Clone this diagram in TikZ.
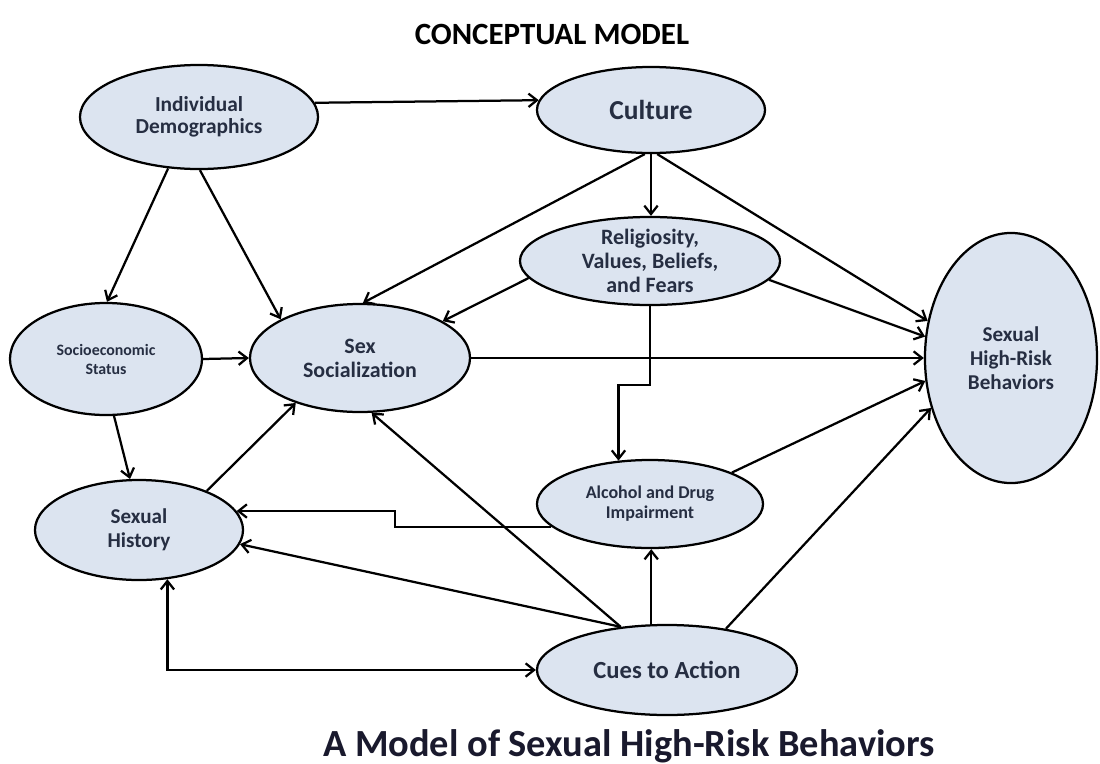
\documentclass[tikz,border=0pt]{standalone}
\usepackage{fontspec}
\setmainfont{Carlito}
\usetikzlibrary{arrows.meta,shapes.geometric}
\definecolor{nodefill}{RGB}{220,228,240}
\definecolor{nodetext}{RGB}{38,46,66}
\definecolor{subcol}{RGB}{25,25,45}
\newcommand\fsz[2]{\fontsize{#1}{#2}\selectfont}
\begin{document}
\begin{tikzpicture}[x=0.025cm,y=-0.025cm,
  ell/.style={ellipse, draw=black, line width=1.6pt, fill=nodefill,
    inner xsep=0pt, inner ysep=-6pt, text=nodetext, align=center},
  arr/.style={line width=1.6pt, -{Straight Barb[length=6pt,width=9.5pt]}},
  arrtwo/.style={line width=1.6pt, {Straight Barb[length=6pt,width=9.5pt]}-{Straight Barb[length=6pt,width=9.5pt]}}
  ]
\useasboundingbox[fill=white] (0,0) rectangle (1100,764);

% titles
\node[font=\bfseries\fsz{22}{24}, anchor=base] (title) at (552,44) {CONCEPTUAL MODEL};
\node[font=\bfseries\fsz{27.3}{30}, text=subcol, anchor=base] (subtitle) at (629,756) {A Model of Sexual High-Risk Behaviors};

% nodes
\node[ell, minimum width=5.95cm, minimum height=2.6cm, font=\bfseries\fsz{15.2}{15.8}] (ID) at (199,117) {Individual\\Demographics};
\node[ell, minimum width=5.7cm, minimum height=2.15cm, font=\bfseries\fsz{19.5}{22}] (Culture) at (651,110) {Culture};
\node[ell, minimum width=6.5cm, minimum height=2.2cm, font=\bfseries\fsz{15.6}{17}] (Relig) at (650,261) {Religiosity,\\Values, Beliefs,\\and Fears};
\node[ell, minimum width=4.8cm, minimum height=2.8cm, font=\bfseries\fsz{11.3}{13.5}] (SES) at (106,359) {Socioeconomic\\Status};
\node[ell, minimum width=5.5cm, minimum height=2.7cm, font=\bfseries\fsz{15.6}{17}] (SexSoc) at (360,358) {Sex\\Socialization};
\node[ell, minimum width=4.3cm, minimum height=6.25cm, font=\bfseries\fsz{15}{17}] (SHRB) at (1011,358) {Sexual\\High-Risk\\Behaviors};
\node[ell, minimum width=5.2cm, minimum height=2.5cm, font=\bfseries\fsz{15}{17}] (SH) at (139,530) {Sexual\\History};
\node[ell, minimum width=5.65cm, minimum height=2.2cm, font=\bfseries\fsz{12.8}{14.2}] (Alc) at (650,504) {Alcohol and Drug\\Impairment};
\node[ell, minimum width=6.5cm, minimum height=2.25cm, font=\bfseries\fsz{17.5}{20}] (Cues) at (667,670) {Cues to Action};

\coordinate (kinkA) at (651,385);
\coordinate (kinkB) at (395,527);

% connectors
\draw[arr] (ID.7.5) -- (Culture.175.9);
\draw[arr] (ID.239.8) -- (SES.89);
\draw[arr] (ID.271) -- (SexSoc.154);
\draw[arr] (SES.0) -- (SexSoc.180);
\draw[arr] (SES.278.4) -- (SH.100.2);
\draw[arr] (SH.30.6) -- (SexSoc.215);
\draw[arr] (Culture.262) -- (SexSoc.87);
\draw[arr] (Culture.south) -- (Culture.south |- Relig.north);
\draw[arr] (Culture.278) -- (SHRB.156.1);
\draw[arr] (Relig.188.6) -- (SexSoc.24.9);
\draw[arr] (Relig.-9.2) -- (SHRB.166.6);
\draw[arr] (SexSoc.0) -- (SHRB.180);
\draw[arr] (Relig.south) -- (Relig.south |- kinkA) -| (Alc.126.4);
\draw[arr] (Alc.21.3) -- (SHRB.195.9);
\draw[arr] (Alc.193.5) -- (Alc.193.5 -| kinkB) |- (SH.11.9);
\draw[arr] (Cues.109.7) -- (Cues.109.7 |- Alc.south);
\draw[arr] (Cues.35.5) -- (SHRB.212.3);
\draw[arr] (Cues.137.4) -- (SexSoc.282.3);
\draw[arr] (Cues.137.4) -- (SH.352.6);
\draw[arrtwo] (SH.300.2) |- (Cues.west);
\end{tikzpicture}
\end{document}
